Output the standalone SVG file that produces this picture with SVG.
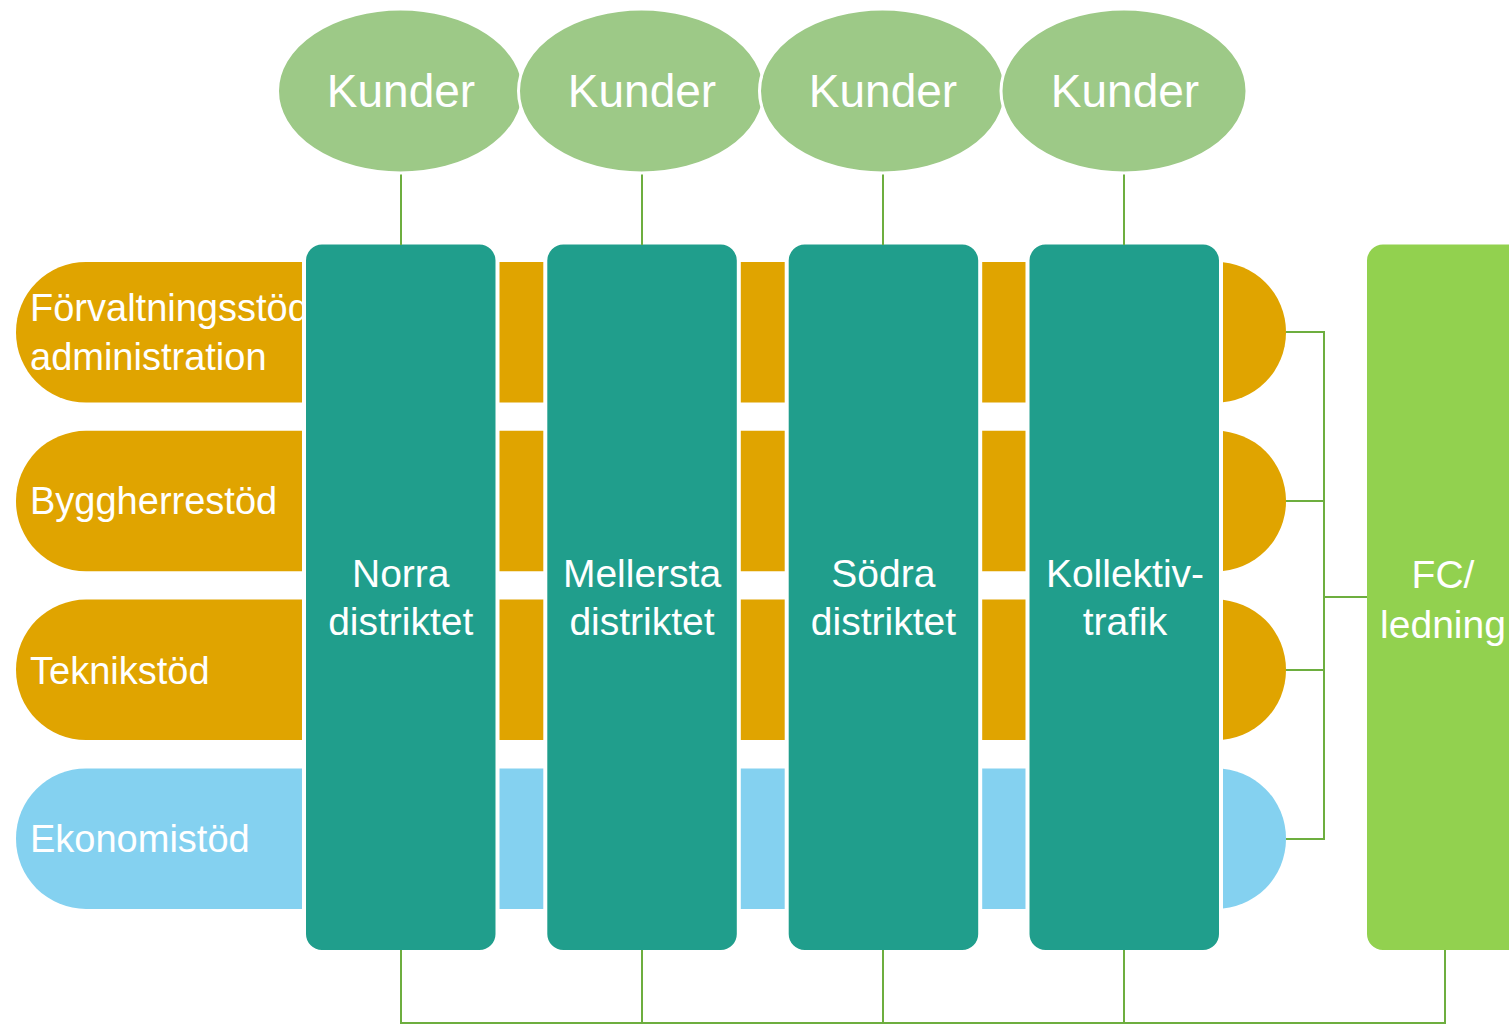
<svg xmlns="http://www.w3.org/2000/svg" width="1509" height="1025" viewBox="0 0 1509 1025">
<style>
.band-o{fill:#E0A400}
.band-b{fill:#84D1F0}
.dist{fill:#209E8C;stroke:#FFFFFF;stroke-width:4}
.fc{fill:#92D14F;stroke:#FFFFFF;stroke-width:4}
.kund{fill:#9DC987;stroke:#FFFFFF;stroke-width:3}
.conn{fill:none;stroke:#6DAE3F;stroke-width:2}
.t{font-family:"Liberation Sans",Arial,sans-serif;fill:#FFFFFF}
.tb{font-size:38px}
.td{font-size:39px;text-anchor:middle}
.tk{font-size:46px;text-anchor:middle}
</style>
<rect width="1509" height="1025" fill="#FFFFFF"/>
<g id="band-forvaltning">
<rect class="band-o" x="16" y="262" width="1270" height="140.5" rx="70" ry="70"/>
<text class="t tb" x="30" y="321">Förvaltningsstöd</text>
<text class="t tb" x="30" y="369.5">administration</text>
</g>
<g id="band-byggherre">
<rect class="band-o" x="16" y="430.8" width="1270" height="140.5" rx="70" ry="70"/>
<text class="t tb" x="30" y="514">Byggherrestöd</text>
</g>
<g id="band-teknik">
<rect class="band-o" x="16" y="599.6" width="1270" height="140.5" rx="70" ry="70"/>
<text class="t tb" x="30" y="684">Teknikstöd</text>
</g>
<g id="band-ekonomi">
<rect class="band-b" x="16" y="768.4" width="1270" height="140.5" rx="70" ry="70"/>
<text class="t tb" x="30" y="852">Ekonomistöd</text>
</g>
<g id="norra">
<rect class="dist" x="304" y="242.5" width="193.5" height="709.5" rx="18" ry="18"/>
<text class="t td" x="400.75" y="586.5">Norra</text>
<text class="t td" x="400.75" y="635">distriktet</text>
</g>
<g id="mellersta">
<rect class="dist" x="545.3" y="242.5" width="193.5" height="709.5" rx="18" ry="18"/>
<text class="t td" x="642" y="586.5">Mellersta</text>
<text class="t td" x="642" y="635">distriktet</text>
</g>
<g id="sodra">
<rect class="dist" x="786.7" y="242.5" width="193.5" height="709.5" rx="18" ry="18"/>
<text class="t td" x="883.4" y="586.5">Södra</text>
<text class="t td" x="883.4" y="635">distriktet</text>
</g>
<g id="kollektivtrafik">
<rect class="dist" x="1027.5" y="242.5" width="193.5" height="709.5" rx="18" ry="18"/>
<text class="t td" x="1125" y="586.5">Kollektiv-</text>
<text class="t td" x="1125" y="635">trafik</text>
</g>
<g id="fc-ledning">
<rect class="fc" x="1365" y="242.5" width="164" height="709.5" rx="18" ry="18"/>
<text class="t td" x="1443" y="588">FC/</text>
<text class="t td" x="1443" y="638">ledning</text>
</g>
<g id="connectors">
<line class="conn" x1="401" y1="170" x2="401" y2="245"/>
<line class="conn" x1="642" y1="170" x2="642" y2="245"/>
<line class="conn" x1="883" y1="170" x2="883" y2="245"/>
<line class="conn" x1="1124" y1="170" x2="1124" y2="245"/>
<polyline class="conn" points="401,950 401,1023 1445,1023 1445,950"/>
<line class="conn" x1="642" y1="950" x2="642" y2="1023"/>
<line class="conn" x1="883" y1="950" x2="883" y2="1023"/>
<line class="conn" x1="1124" y1="950" x2="1124" y2="1023"/>
<polyline class="conn" points="1286,332 1324,332 1324,839 1286,839"/>
<line class="conn" x1="1286" y1="501" x2="1324" y2="501"/>
<line class="conn" x1="1286" y1="670" x2="1324" y2="670"/>
<line class="conn" x1="1324" y1="597" x2="1367" y2="597"/>
</g>
<g id="kunder-1">
<ellipse class="kund" cx="400.5" cy="91" rx="123" ry="82"/>
<text class="t tk" x="401" y="107">Kunder</text>
</g>
<g id="kunder-2">
<ellipse class="kund" cx="641.5" cy="91" rx="123" ry="82"/>
<text class="t tk" x="642" y="107">Kunder</text>
</g>
<g id="kunder-3">
<ellipse class="kund" cx="882.5" cy="91" rx="123" ry="82"/>
<text class="t tk" x="883" y="107">Kunder</text>
</g>
<g id="kunder-4">
<ellipse class="kund" cx="1124" cy="91" rx="123" ry="82"/>
<text class="t tk" x="1125" y="107">Kunder</text>
</g>
</svg>
